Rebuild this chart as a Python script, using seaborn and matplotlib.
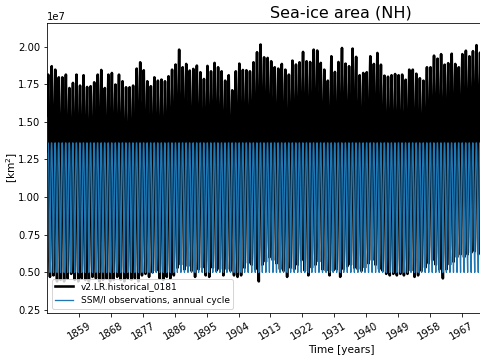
import numpy as np
import pandas as pd
import matplotlib
matplotlib.use("Agg")
import matplotlib.pyplot as plt
import seaborn as sns

# annual maxima / minima of the model run (units: 1e7 km^2)
years = list(range(1850, 1973))
model_max = [
    1.814, 1.870, 1.847, 1.796, 1.796, 1.814, 1.725, 1.759, 1.814, 1.741,
    1.810, 1.732, 1.737, 1.763, 1.814, 1.845, 1.725, 1.814, 1.825, 1.748,
    1.814, 1.770, 1.730, 1.730, 1.741, 1.854, 1.896, 1.843, 1.770, 1.737,
    1.796, 1.774, 1.781, 1.770, 1.803, 1.847, 1.881, 1.980, 1.863, 1.885,
    1.841, 1.852, 1.874, 1.830, 1.785, 1.872, 1.836, 1.892, 1.863, 1.836,
    1.774, 1.810, 1.710, 1.836, 1.887, 1.845, 1.843, 1.836, 1.896, 1.963,
    2.014, 1.929, 1.925, 1.903, 1.863, 1.854, 1.885, 1.847, 1.814, 1.907,
    1.881, 1.896, 1.965, 1.903, 1.898, 1.980, 1.974, 1.892, 1.847, 1.774,
    1.936, 1.832, 1.898, 1.991, 1.887, 1.870, 1.987, 1.932, 1.810, 1.825,
    1.830, 1.936, 1.885, 1.958, 1.880, 1.807, 1.800, 1.810, 1.818, 1.810,
    1.814, 1.780, 1.847, 1.847, 1.820, 1.790, 1.774, 1.863, 1.863, 1.940,
    1.920, 1.950, 1.880, 1.890, 1.953, 1.885, 1.863, 1.950, 1.973, 1.936,
    1.970, 2.010, 1.960,
]
model_min = [
    0.47, 0.48, 0.44, 0.45, 0.44, 0.46, 0.49, 0.45, 0.44, 0.46,
    0.45, 0.44, 0.47, 0.46, 0.44, 0.45, 0.46, 0.44, 0.45, 0.47,
    0.45, 0.44, 0.46, 0.45, 0.46, 0.44, 0.48, 0.49, 0.47, 0.50,
    0.51, 0.46, 0.45, 0.47, 0.46, 0.48, 0.53, 0.55, 0.52, 0.54,
    0.51, 0.47, 0.52, 0.53, 0.48, 0.47, 0.53, 0.51, 0.52, 0.48,
    0.52, 0.51, 0.48, 0.47, 0.48, 0.53, 0.56, 0.55, 0.52, 0.44,
    0.55, 0.57, 0.60, 0.58, 0.56, 0.52, 0.51, 0.47, 0.53, 0.52,
    0.55, 0.58, 0.51, 0.48, 0.53, 0.55, 0.57, 0.52, 0.51, 0.48,
    0.51, 0.52, 0.47, 0.52, 0.54, 0.55, 0.53, 0.52, 0.51, 0.53,
    0.56, 0.58, 0.55, 0.52, 0.51, 0.49, 0.48, 0.49, 0.48, 0.49,
    0.48, 0.49, 0.51, 0.47, 0.48, 0.51, 0.53, 0.56, 0.58, 0.55,
    0.52, 0.46, 0.52, 0.55, 0.57, 0.60, 0.62, 0.60, 0.62, 0.63,
    0.64, 0.62, 0.62,
]
# relative position of each month between the annual min (0) and max (1)
model_shape = [0.80, 0.93, 1.00, 0.90, 0.76, 0.58, 0.32, 0.08, 0.00, 0.20, 0.48, 0.68]
# SSM/I observed climatology, Jan..Dec (1e7 km^2)
obs_cycle = [1.30, 1.36, 1.36, 1.31, 1.20, 1.04, 0.80, 0.58, 0.50, 0.66, 0.92, 1.14]

xticks = [1859, 1868, 1877, 1886, 1895, 1904, 1913, 1922, 1931, 1940, 1949, 1958, 1967]

rows = []
for i, yr in enumerate(years):
    for m in range(12):
        t = yr + (m + 0.5) / 12.0
        val = model_min[i] + (model_max[i] - model_min[i]) * model_shape[m]
        rows.append((t, val * 1e7, obs_cycle[m] * 1e7))
df = pd.DataFrame(rows, columns=["time", "model", "obs"])

# the axes run on past the right edge (the picture is a crop of a wider plot)
fig = plt.figure(figsize=(480 / 72, 360 / 72), dpi=72)
ax = fig.add_axes([47.3 / 480, 47 / 360, 587.4 / 480, 290 / 360])

sns.lineplot(data=df, x="time", y="model", ax=ax, color="black", lw=2.6,
             label="v2.LR.historical_0181")
sns.lineplot(data=df, x="time", y="obs", ax=ax, color="#1f77b4", lw=1.3,
             label="SSM/I observations, annual cycle")

ax.set_xlim(1849.96, 2015.9)
ax.set_ylim(0.23e7, 2.157e7)
ax.set_yticks([0.25e7, 0.5e7, 0.75e7, 1.0e7, 1.25e7, 1.5e7, 1.75e7, 2.0e7])
ax.set_xticks(xticks)
ax.set_xticklabels([str(t) for t in xticks], rotation=30, ha="center")
ax.set_xlabel("Time [years]", fontsize=10.5)
ax.set_ylabel("[km$^2$]", fontsize=10.5, labelpad=-2)
ax.set_title("Sea-ice area (NH)", fontsize=16)
ax.legend(loc="lower left", fontsize=9)

fig.savefig("out.png", dpi=72)
